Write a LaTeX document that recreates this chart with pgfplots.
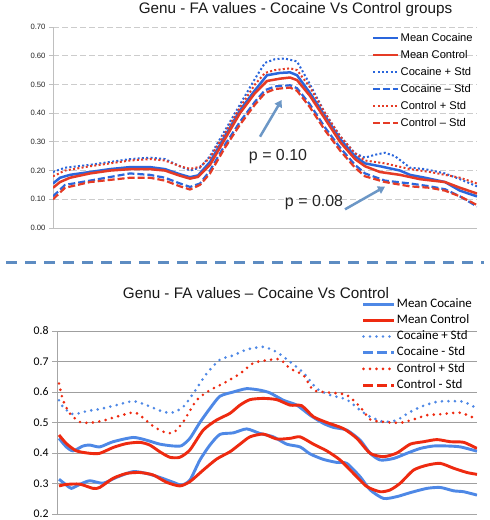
\documentclass[border=0pt]{standalone}
\usepackage{pgfplots}
\pgfplotsset{compat=1.18}
\usetikzlibrary{arrows.meta}
\usepackage{fontspec}
\setmainfont{Liberation Sans}
\newfontfamily\carlito{Carlito}
\definecolor{tblue}{HTML}{2A66DC}
\definecolor{tred}{HTML}{E53B25}
\definecolor{bblue}{HTML}{4E88E6}
\definecolor{bred}{HTML}{EE2A10}
\definecolor{sepblue}{HTML}{5D8CC2}
\definecolor{arrblue}{HTML}{6C97C6}
\begin{document}
\begin{tikzpicture}[x=1bp,y=1bp]
\path[use as bounding box] (0,0) rectangle (490,520);
\fill[white] (0,0) rectangle (490,520);
\draw[sepblue, line width=3bp, dash pattern=on 11bp off 8bp] (6,257.3) -- (484,257.3);
\node[font=\fontsize{15.3}{18}\selectfont, text=black!90] at (295.5,510) {Genu - FA values - Cocaine Vs Control groups};
\node[font=\fontsize{15.3}{18}\selectfont, text=black!90] at (256,227) {Genu - FA values – Cocaine Vs Control};

% ---------------- top chart ----------------
\begin{axis}[at={(53bp,292bp)}, anchor=south west, width=424bp, height=201bp, scale only axis,
  xmin=53, xmax=477, ymin=0, ymax=0.7,
  axis lines*=left, axis line style={draw=gray!50, line width=0.8bp},
  xtick=\empty, ytick={0,0.1,0.2,0.3,0.4,0.5,0.6,0.7},
  yticklabel style={/pgf/number format/.cd, fixed, fixed zerofill, precision=2, assume math mode=true},
  tick label style={font=\fontsize{7.7}{9}\selectfont, text=black!85},
  ymajorgrids, major grid style={gray!40, dash pattern=on 6bp off 3bp, line width=0.9bp},
  tick align=outside, major tick length=4bp, tick style={gray!50, line width=0.8bp},
  legend image code/.code={\draw[#1] (0bp,0bp) -- (25bp,0bp);},
  legend style={at={(axis cs:372,0.679)}, anchor=north west, draw=none, fill=none, inner sep=0pt,
    font=\fontsize{11.2}{13}\selectfont, row sep=7bp,
    nodes={inner xsep=1bp, inner ysep=0pt, text height=8bp, text depth=2bp}},
  legend cell align=left]
\addplot[tblue, line width=2.5bp] coordinates {(53,0.155) (60,0.175) (70,0.185) (90,0.195) (110,0.205) (130,0.212) (150,0.212) (165,0.205) (180,0.187) (190,0.177) (198,0.183) (210,0.23) (225,0.32) (240,0.41) (255,0.48) (267,0.532) (280,0.54) (290,0.542) (297,0.532) (310,0.47) (325,0.39) (340,0.31) (355,0.25) (365,0.225) (380,0.215) (400,0.20) (410,0.185) (425,0.175) (445,0.16) (460,0.13) (477,0.11)};
\addlegendentry{Mean Cocaine}
\addplot[tred, line width=2.5bp] coordinates {(53,0.14) (60,0.16) (70,0.175) (90,0.19) (110,0.2) (130,0.205) (150,0.205) (165,0.2) (180,0.182) (190,0.172) (198,0.178) (210,0.22) (225,0.31) (240,0.40) (255,0.47) (267,0.512) (280,0.52) (290,0.524) (297,0.515) (310,0.46) (325,0.38) (340,0.30) (355,0.24) (365,0.215) (380,0.195) (400,0.185) (420,0.17) (445,0.16) (460,0.14) (477,0.12)};
\addlegendentry{Mean Control}
\addplot[tblue, line width=2bp, dash pattern=on 2bp off 2.3bp] coordinates {(53,0.195) (65,0.21) (90,0.22) (130,0.24) (150,0.245) (165,0.24) (180,0.215) (190,0.2) (200,0.21) (210,0.25) (225,0.34) (240,0.43) (255,0.52) (265,0.575) (275,0.588) (285,0.59) (297,0.58) (310,0.50) (325,0.40) (340,0.32) (355,0.26) (365,0.245) (375,0.255) (385,0.262) (395,0.25) (410,0.21) (425,0.205) (445,0.19) (460,0.17) (477,0.145)};
\addlegendentry{Cocaine + Std}
\addplot[tblue, line width=2.2bp, dash pattern=on 7bp off 3bp] coordinates {(53,0.11) (65,0.15) (90,0.165) (130,0.19) (150,0.185) (165,0.175) (180,0.155) (190,0.143) (200,0.155) (210,0.2) (225,0.29) (240,0.37) (255,0.44) (265,0.48) (275,0.493) (290,0.497) (297,0.487) (310,0.43) (325,0.35) (340,0.28) (355,0.22) (365,0.19) (385,0.165) (410,0.155) (430,0.145) (445,0.135) (460,0.11) (477,0.075)};
\addlegendentry{Cocaine – Std}
\addplot[tred, line width=2bp, dash pattern=on 2bp off 2.3bp] coordinates {(53,0.18) (65,0.2) (90,0.215) (130,0.235) (150,0.24) (165,0.235) (180,0.215) (190,0.206) (200,0.213) (210,0.245) (225,0.33) (240,0.42) (255,0.5) (265,0.54) (275,0.55) (290,0.556) (297,0.55) (310,0.49) (325,0.40) (340,0.32) (355,0.26) (365,0.235) (385,0.225) (410,0.205) (430,0.195) (445,0.185) (460,0.175) (477,0.155)};
\addlegendentry{Control + Std}
\addplot[tred, line width=2.2bp, dash pattern=on 7bp off 3bp] coordinates {(53,0.10) (65,0.14) (90,0.16) (130,0.175) (150,0.175) (165,0.165) (180,0.145) (190,0.134) (200,0.15) (210,0.19) (225,0.28) (240,0.36) (255,0.43) (265,0.47) (275,0.484) (290,0.489) (297,0.478) (310,0.42) (325,0.34) (340,0.27) (355,0.21) (365,0.18) (385,0.16) (410,0.145) (430,0.14) (445,0.13) (460,0.11) (477,0.08)};
\addlegendentry{Control – Std}
\draw[arrblue, line width=2.5bp, -{Triangle[length=7bp,width=8bp]}] (axis cs:260,0.318) -- (axis cs:281.7,0.446);
\draw[arrblue, line width=2.5bp, -{Triangle[length=7bp,width=8bp]}] (axis cs:345,0.065) -- (axis cs:385,0.144);
\node[font=\fontsize{16}{18}\selectfont, text=black!85] at (axis cs:278,0.247) {p = 0.10};
\node[font=\fontsize{16}{18}\selectfont, text=black!85] at (axis cs:314,0.087) {p = 0.08};
\end{axis}

% ---------------- bottom chart ----------------
\begin{axis}[at={(57bp,6bp)}, anchor=south west, width=420bp, height=183bp, scale only axis,
  xmin=172, xmax=1430, ymin=0.2, ymax=0.8,
  axis lines*=left, axis line style={draw=gray!70, line width=0.9bp},
  xtick=\empty, ytick={0.2,0.3,0.4,0.5,0.6,0.7,0.8},
  yticklabel style={/pgf/number format/.cd, fixed, fixed zerofill, precision=1, assume math mode=true},
  tick label style={font=\carlito\fontsize{11.8}{13}\selectfont, text=black},
  ymajorgrids, major grid style={gray!75, line width=0.9bp},
  tick align=outside, major tick length=5bp, tick style={gray!70, line width=0.9bp},
  legend image code/.code={\draw[#1] (0bp,0bp) -- (31bp,0bp);},
  legend style={at={(axis cs:1085,0.908)}, anchor=north west, draw=none, fill=none, inner sep=0pt,
    font=\carlito\fontsize{13}{14}\selectfont, row sep=4.5bp,
    nodes={inner xsep=1bp, inner ysep=0pt, text height=9bp, text depth=2.7bp}},
  legend cell align=left]
\addplot[bblue, line width=2.9bp, smooth, tension=0.4] coordinates {(178,0.448) (200,0.42) (220,0.407) (250,0.423) (270,0.426) (300,0.42) (340,0.437) (400,0.451) (440,0.442) (480,0.429) (520,0.423) (545,0.424) (570,0.448) (600,0.50) (630,0.546) (660,0.586) (700,0.60) (740,0.611) (780,0.606) (810,0.597) (850,0.573) (890,0.557) (930,0.524) (970,0.497) (1000,0.484) (1040,0.475) (1080,0.442) (1110,0.399) (1140,0.377) (1180,0.382) (1220,0.399) (1260,0.415) (1300,0.423) (1340,0.423) (1380,0.42) (1430,0.406)};
\addlegendentry{Mean Cocaine}
\addplot[bred, line width=2.9bp, smooth, tension=0.4] coordinates {(178,0.459) (200,0.431) (230,0.407) (270,0.399) (300,0.399) (340,0.418) (380,0.431) (420,0.435) (450,0.426) (480,0.404) (510,0.386) (540,0.386) (570,0.41) (610,0.475) (650,0.508) (690,0.53) (720,0.557) (750,0.575) (790,0.579) (830,0.575) (870,0.557) (905,0.555) (940,0.519) (980,0.50) (1030,0.48) (1070,0.448) (1110,0.399) (1150,0.388) (1190,0.40) (1230,0.429) (1270,0.437) (1310,0.444) (1350,0.437) (1390,0.435) (1430,0.415)};
\addlegendentry{Mean Control}
\addplot[bblue, line width=2.9bp, line cap=round, dash pattern=on 0bp off 6.5bp, smooth, tension=0.4] coordinates {(178,0.573) (190,0.551) (220,0.527) (260,0.537) (300,0.544) (350,0.557) (400,0.57) (440,0.557) (490,0.535) (520,0.533) (550,0.551) (580,0.595) (620,0.66) (660,0.706) (700,0.72) (740,0.739) (790,0.748) (830,0.731) (870,0.699) (910,0.663) (950,0.611) (990,0.59) (1040,0.575) (1080,0.54) (1110,0.519) (1150,0.502) (1190,0.508) (1230,0.535) (1270,0.555) (1310,0.568) (1350,0.57) (1390,0.568) (1430,0.546)};
\addlegendentry{Cocaine + Std}
\addplot[bblue, line width=2.9bp, smooth, tension=0.4, legend image post style={dash pattern=on 10bp off 4bp}] coordinates {(178,0.314) (200,0.295) (215,0.284) (240,0.297) (270,0.309) (310,0.301) (350,0.32) (400,0.339) (440,0.333) (480,0.32) (520,0.304) (545,0.295) (570,0.311) (600,0.377) (630,0.426) (660,0.461) (700,0.466) (740,0.479) (780,0.464) (820,0.453) (860,0.429) (900,0.42) (930,0.397) (970,0.379) (1010,0.369) (1040,0.366) (1080,0.322) (1110,0.279) (1150,0.251) (1190,0.257) (1230,0.27) (1280,0.284) (1320,0.287) (1360,0.276) (1390,0.273) (1430,0.262)};
\addlegendentry{Cocaine - Std}
\addplot[bred, line width=2.9bp, line cap=round, dash pattern=on 0bp off 6.5bp, smooth, tension=0.4] coordinates {(178,0.628) (190,0.573) (210,0.53) (240,0.502) (270,0.499) (310,0.506) (350,0.519) (400,0.533) (420,0.524) (460,0.488) (490,0.47) (520,0.466) (550,0.502) (590,0.573) (630,0.606) (670,0.628) (720,0.66) (760,0.695) (800,0.704) (840,0.707) (870,0.677) (910,0.655) (940,0.606) (990,0.598) (1040,0.59) (1080,0.551) (1110,0.51) (1150,0.502) (1200,0.499) (1240,0.51) (1280,0.524) (1320,0.527) (1380,0.532) (1430,0.51)};
\addlegendentry{Control + Std}
\addplot[bred, line width=2.9bp, smooth, tension=0.4, legend image post style={dash pattern=on 10bp off 4bp}] coordinates {(178,0.292) (200,0.297) (240,0.298) (280,0.284) (300,0.287) (340,0.317) (380,0.333) (420,0.336) (460,0.328) (500,0.304) (540,0.292) (570,0.306) (610,0.344) (650,0.38) (690,0.404) (720,0.429) (750,0.453) (790,0.462) (830,0.446) (870,0.448) (900,0.453) (940,0.429) (980,0.407) (1020,0.377) (1060,0.333) (1100,0.29) (1140,0.273) (1170,0.279) (1200,0.301) (1240,0.344) (1280,0.36) (1320,0.366) (1360,0.35) (1400,0.336) (1430,0.33)};
\addlegendentry{Control - Std}
\end{axis}
\end{tikzpicture}
\end{document}
